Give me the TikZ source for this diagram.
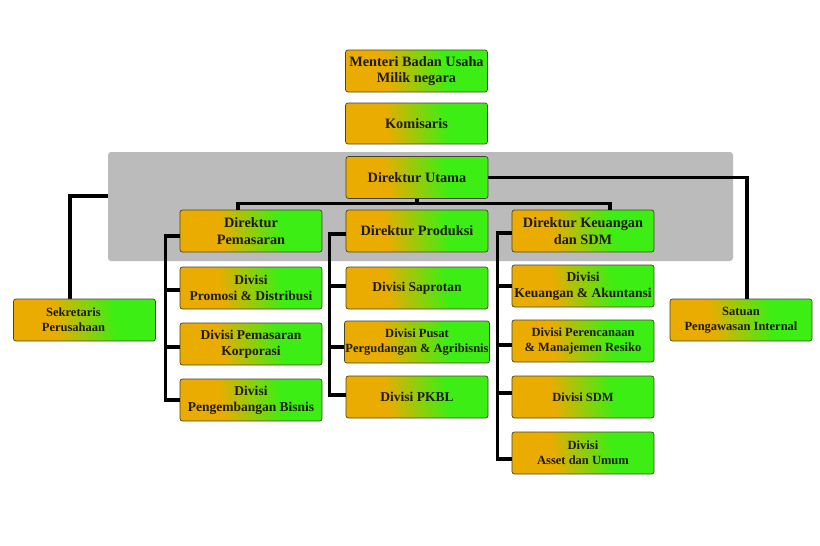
\documentclass[tikz,border=0pt]{standalone}
\usepackage{fontspec}
\setmainfont{Liberation Serif}
\definecolor{myor}{RGB}{234,172,0}
\definecolor{mygr}{RGB}{60,238,20}
\definecolor{txt}{RGB}{30,28,5}
\definecolor{bord}{RGB}{70,70,40}
\definecolor{graybg}{RGB}{187,187,187}
\pgfdeclarehorizontalshading{og}{100bp}{color(0bp)=(myor); color(38bp)=(myor); color(62bp)=(mygr); color(100bp)=(mygr)}
\pgfdeclarelayer{bottom}
\pgfdeclarelayer{back}
\pgfsetlayers{bottom,back,main}
\begin{document}
\begin{tikzpicture}[x=1pt,y=-1pt,
  box/.style={rectangle, rounded corners=2.5pt, draw=bord, line width=0.7pt, shade, shading=og, shading angle=10,
    minimum width=142pt, minimum height=42pt, inner sep=1pt, align=center, text=txt},
  big/.style={font=\bfseries\fontsize{14.3}{16.5}\selectfont},
  mid/.style={font=\bfseries\fontsize{13.5}{16}\selectfont},
  small/.style={font=\bfseries\fontsize{12.5}{15}\selectfont},
  conn/.style={line width=3.3pt, black, line join=miter}]
\useasboundingbox (0,0) rectangle (820,546);

% boxes
\node[box,big] (men) at (416.5,71) {Menteri Badan Usaha\\Milik negara};
\node[box,big,minimum height=41pt] (kom) at (416.5,123.5) {Komisaris};
\node[box,big] (utama) at (417,177.5) {Direktur Utama};
\node[box,big] (pem) at (251,231) {Direktur\\Pemasaran};
\node[box,big] (prod) at (417,231) {Direktur Produksi};
\node[box,big] (keu) at (583,231) {Direktur Keuangan\\dan SDM};

\node[box,mid] (promosi) at (251,288) {Divisi\\Promosi \& Distribusi};
\node[box,mid] (korp) at (251,344) {Divisi Pemasaran\\Korporasi};
\node[box,mid] (bisnis) at (251,400) {Divisi\\Pengembangan Bisnis};

\node[box,mid] (saprotan) at (417,288) {Divisi Saprotan};
\node[box,small] (pusat) at (417,342) {Divisi Pusat\\Pergudangan \& Agribisnis};
\node[box,mid] (pkbl) at (417,397) {Divisi PKBL};

\node[box,mid] (akun) at (583,286) {Divisi\\Keuangan \& Akuntansi};
\node[box,small] (renc) at (583,341) {Divisi Perencanaan\\\& Manajemen Resiko};
\node[box,small] (sdm) at (583,397) {Divisi SDM};
\node[box,small] (asset) at (583,453) {Divisi\\Asset dan Umum};

\node[box,small] (sek) at (84.5,320) {\hspace*{-22pt}Sekretaris\\\hspace*{-22pt}Perusahaan};
\node[box,small] (spi) at (741,320) {Satuan\\Pengawasan Internal};

% white page and hidden connector behind the gray band
\begin{pgfonlayer}{bottom}
\fill[white] (0,0) rectangle (820,546);
\draw[conn] ([xshift=-14.5pt]sek.north) |- ([yshift=-18.5pt]utama.west);
\end{pgfonlayer}
\begin{pgfonlayer}{back}
\fill[graybg, rounded corners=3pt] (108,152) rectangle (733,261);
\end{pgfonlayer}

% connectors
\draw[conn] (utama.south) -- ++(0,6.5);
\draw[conn] ([xshift=-13pt]pem.north) -- ++(0,-6) -| ([xshift=27pt]keu.north);
\draw[conn] (utama.east) -| ([xshift=6pt]spi.north);

\draw[conn] ([yshift=-5pt]pem.west) -- ++(-14,0) |- (bisnis.west);
\draw[conn] ([yshift=-2pt]promosi.west) -- ++(-14,0);
\draw[conn] ([yshift=-3pt]korp.west) -- ++(-14,0);

\draw[conn] ([yshift=-3pt]prod.west) -- ++(-16,0) |- ([yshift=2pt]pkbl.west);
\draw[conn] ([yshift=2pt]saprotan.west) -- ++(-16,0);
\draw[conn] ([yshift=-5pt]pusat.west) -- ++(-16,0);

\draw[conn] ([yshift=-2pt]keu.west) -- ++(-14,0) |- ([yshift=-6pt]asset.west);
\draw[conn] (akun.west) -- ++(-14,0);
\draw[conn] ([yshift=-4pt]renc.west) -- ++(-14,0);
\draw[conn] ([yshift=4pt]sdm.west) -- ++(-14,0);
\end{tikzpicture}
\end{document}
